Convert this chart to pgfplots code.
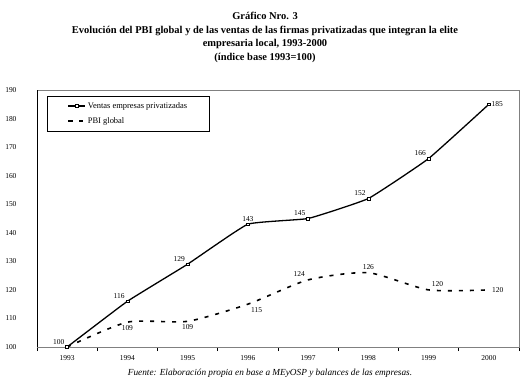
\documentclass[border=0pt]{standalone}
\usepackage{fontspec}
\setmainfont{Liberation Serif}
\usepackage{pgfplots}
\usepackage{pgfplotstable}
\pgfplotsset{compat=1.18}
\pgfplotstableread{
x y lab
0 100 100
1 116 116
2 129 129
3 143 143
4 145 145
5 152 152
6 166 166
7 185 185
}\ventas
\pgfplotstableread{
x y lab
0 100 {}
1 108.7 109
2 109 109
3 115 115
4 123.5 124
5 126 126
6 120 120
7 120 120
}\pbi
\def\ancV#1{\ifcase#1 south east\or south east\or south east\or south\or south east\or south east\or south east\or west\fi}
\def\ancP#1{\ifcase#1 south\or north\or north\or north west\or south east\or south\or south west\or west\fi}
\pgfplotsset{lbl/.style={point meta=explicit symbolic, nodes near coords,
  visualization depends on={x \as \myx},
  nodes near coords style={font=\fontsize{7.5}{8}\selectfont, inner sep=2.5bp,
    /utils/exec={\pgfmathtruncatemacro\myi{round(\myx)}\edef\myanc{#1{\myi}}},
    anchor=\myanc}}}
\begin{document}
\begin{tikzpicture}
\useasboundingbox[fill=white] (-37bp,-36bp) rectangle (494bp,347bp);
\begin{axis}[at={(0,0)}, anchor=south west, scale only axis,
  width=482bp, height=257bp,
  xmin=-0.5, xmax=7.5, ymin=100, ymax=190,
  xtick={0,...,7}, xticklabels={1993,1994,1995,1996,1997,1998,1999,2000},
  minor xtick={-0.5,0.5,...,7.5},
  ytick={100,110,...,190},
  tick align=outside, xtick pos=bottom, ytick pos=left,
  major tick length=0pt, minor tick length=4bp,
  axis line style={gray},
  minor tick style={black, line width=0.6bp},
  ticklabel style={font=\fontsize{7.5}{8}\selectfont},
  yticklabel style={xshift=-17bp},
  xticklabel style={yshift=-5bp},
  /pgf/number format/assume math mode=true,
  /pgf/number format/set thousands separator={},
  clip=false,
  legend style={at={(0.0207,0.977)}, anchor=north west, draw=black, line width=0.6bp,
    font=\fontsize{8.5}{9}\selectfont, inner xsep=20bp, inner ysep=4bp, row sep=4bp,
    cells={anchor=west}},
  legend cell align=left,
]
\addplot[black, line width=1.3bp, smooth, tension=0.2, mark=square*, mark size=1.4bp,
  mark options={fill=white, solid, line width=0.5bp}, lbl=\ancV,
  nodes near coords style={xshift=0bp}]
  table[x=x, y=y, meta=lab] {\ventas};
\addlegendentry{Ventas empresas privatizadas}
\addplot[black, line width=1.6bp, smooth, tension=0.4, dash pattern=on 4bp off 7bp, lbl=\ancP]
  table[x=x, y=y, meta=lab] {\pbi};
\addlegendentry{PBI global}
\end{axis}
\draw[black, line width=0.6bp] (0,0) -- (0,257bp);
\node[font=\bfseries\fontsize{10.5}{13.7}\selectfont, align=center, anchor=north, inner sep=0pt]
  at (228bp,335bp) {Gráfico Nro. 3\\Evolución del PBI global y de las ventas de las firmas privatizadas que integran la elite\\empresaria local, 1993-2000\\(índice base 1993=100)};
\node[font=\itshape\fontsize{9.3}{10}\selectfont] at (233bp,-26bp)
  {Fuente: Elaboración propia en base a MEyOSP y balances de las empresas.};
\end{tikzpicture}
\end{document}
